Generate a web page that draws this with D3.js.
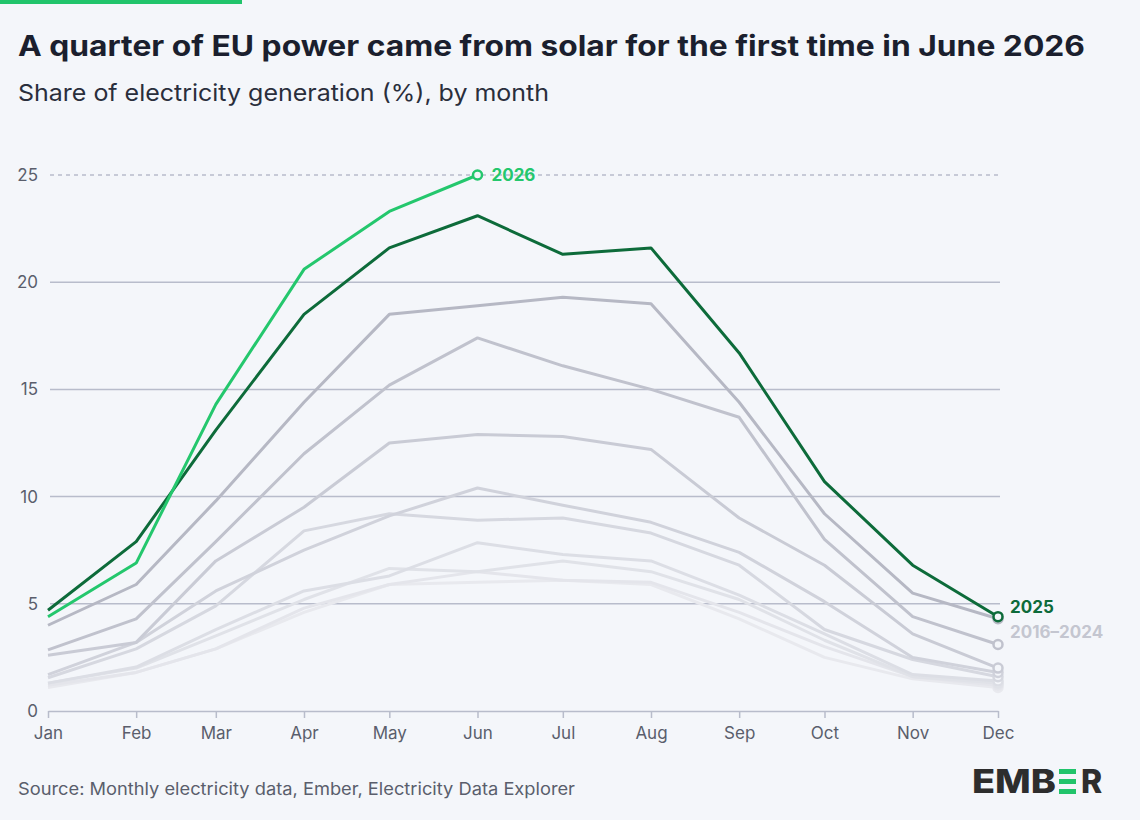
<!DOCTYPE html>
<html><head><meta charset="utf-8">
<script src="https://cdn.jsdelivr.net/npm/d3@7"></script>
<style>body{margin:0;background:#f4f6fa;font-family:Inter,"Noto Sans",sans-serif}</style>
</head><body><svg id="c" width="1140" height="820"></svg>
<script>
const months = ["Jan","Feb","Mar","Apr","May","Jun","Jul","Aug","Sep","Oct","Nov","Dec"];
const yTicks = [0,5,10,15,20,25];
const y2026 = [4.4,6.9,14.3,20.6,23.3,25.0];
const y2025 = [4.7,7.9,13.1,18.5,21.6,23.1,21.3,21.6,16.7,10.7,6.8,4.4];
const y2024 = [4.0,5.9,9.8,14.4,18.5,18.9,19.3,19.0,14.4,9.2,5.5,4.3];
const y2023 = [2.85,4.3,7.9,12.0,15.2,17.4,16.1,15.0,13.7,8.0,4.4,3.1];
const y2022 = [2.6,3.2,7.0,9.5,12.5,12.9,12.8,12.2,9.0,6.8,3.6,2.0];
const y2021 = [1.7,3.2,5.6,7.5,9.1,10.4,9.6,8.8,7.4,5.1,2.5,1.8];
const y2020 = [1.55,2.9,4.9,8.4,9.2,8.9,9.0,8.3,6.8,3.8,2.4,1.6];
const y2019 = [1.3,2.05,3.8,5.6,6.3,7.85,7.3,7.0,5.4,3.6,1.7,1.4];
const y2018 = [1.3,2.0,3.5,5.2,6.65,6.5,7.0,6.5,5.2,3.3,1.6,1.3];
const y2017 = [1.2,1.8,2.9,4.8,5.9,6.5,6.1,6.0,4.6,3.0,1.6,1.2];
const y2016 = [1.1,1.8,2.9,4.6,5.9,6.0,6.1,5.9,4.3,2.5,1.5,1.1];
const grays = [y2016,y2017,y2018,y2019,y2020,y2021,y2022,y2023,y2024];
const grayColors = ["#e8e9ee","#e4e5eb","#e0e2e8","#dcdee5","#d6d8e0","#d0d2db","#c9cbd5","#c0c2cd","#b6b8c4"];

const svg = d3.select("#c");
svg.append("rect").attr("width",1140).attr("height",820).attr("fill","#f4f6fa");
svg.append("rect").attr("width",242).attr("height",4).attr("fill","#21c46b");
svg.append("text").attr("x",18).attr("y",56).attr("font-size",28).attr("font-weight",700).attr("fill","#1b1f2e")
  .attr("textLength",1067).attr("lengthAdjust","spacingAndGlyphs").text("A quarter of EU power came from solar for the first time in June 2026");
svg.append("text").attr("x",18).attr("y",101).attr("font-size",23).attr("fill","#2a2e3c")
  .attr("textLength",531).attr("lengthAdjust","spacingAndGlyphs").text("Share of electricity generation (%), by month");
svg.append("text").attr("x",18).attr("y",795).attr("font-size",17).attr("fill","#5a5e6c")
  .attr("textLength",557).attr("lengthAdjust","spacingAndGlyphs").text("Source: Monthly electricity data, Ember, Electricity Data Explorer");
// logo
const lg = svg.append("g");
lg.append("text").attr("x",972).attr("y",793).attr("font-size",32).attr("font-weight",800).attr("fill","#2d2d2d")
  .attr("textLength",84).attr("lengthAdjust","spacingAndGlyphs").text("EMB");
lg.append("text").attr("x",1081).attr("y",793).attr("font-size",32).attr("font-weight",800).attr("fill","#2d2d2d").text("R");
[0,1,2].forEach(i=>lg.append("rect").attr("x",1059).attr("y",769+i*10).attr("width",17).attr("height",5).attr("fill","#21c46b"));

const dates = months.map((m,i)=>new Date(2025,i,1));
const x = d3.scaleTime().domain([dates[0],dates[11]]).range([48,998]);
const y = d3.scaleLinear().domain([0,25]).range([711,175]);

yTicks.forEach(t=>{
  if(t>0) svg.append("line").attr("x1",50).attr("x2",1000).attr("y1",y(t)).attr("y2",y(t))
    .attr("stroke","#b8bccb").attr("stroke-width",1.5).attr("stroke-dasharray",t===25?"4,4":null);
  svg.append("text").attr("x",38).attr("y",y(t)+6).attr("text-anchor","end").attr("font-size",17).attr("fill","#5a5e6c").text(t);
});
const ax = svg.append("g").attr("transform","translate(0,711)")
  .call(d3.axisBottom(x).tickValues(dates).tickFormat((d,i)=>months[i]).tickSize(7).tickSizeOuter(0));
ax.select(".domain").attr("stroke","#b8bccb").attr("stroke-width",1.5);
ax.selectAll(".tick line").attr("stroke","#b8bccb").attr("stroke-width",1.5);
ax.selectAll("text").attr("font-size",17).attr("fill","#5a5e6c").attr("font-family","Inter").attr("dy","1.05em");

const line = d3.line().x((d,i)=>x(dates[i])).y(d=>y(d));
function draw(arr,col,w){
  svg.append("path").attr("d",line(arr)).attr("fill","none").attr("stroke",col).attr("stroke-width",w).attr("stroke-linejoin","round");
  const n=arr.length-1;
  svg.append("circle").attr("cx",x(dates[n])).attr("cy",y(arr[n])).attr("r",4.5).attr("fill","#f4f6fa").attr("stroke",col).attr("stroke-width",2.5);
}
grays.forEach((g,i)=>draw(g,grayColors[i],3));
draw(y2025,"#0d6b3a",3);
draw(y2026,"#24c76d",3);
svg.append("text").attr("x",x(dates[5])+14).attr("y",y(25)+6).attr("font-size",17).attr("font-weight",700).attr("fill","#24c76d").text("2026");
svg.append("text").attr("x",1010).attr("y",613).attr("font-size",17).attr("font-weight",700).attr("fill","#0d6b3a").text("2025");
svg.append("text").attr("x",1010).attr("y",638).attr("font-size",17).attr("font-weight",700).attr("fill","#c4c6d0").text("2016–2024");
</script></body></html>
